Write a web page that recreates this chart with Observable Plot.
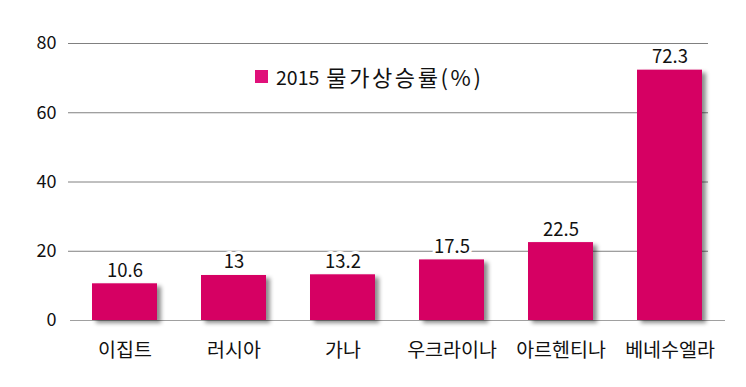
<!DOCTYPE html>
<html><head><meta charset="utf-8">
<script src="https://cdn.jsdelivr.net/npm/d3@7"></script>
<script src="https://cdn.jsdelivr.net/npm/@observablehq/plot@0.6"></script>
<style>
body{margin:0;background:#fff;font-family:"Noto Sans CJK KR","Noto Sans",sans-serif;}
#wrap{position:relative;width:746px;height:387px;}
#legend{position:absolute;left:255px;top:60px;color:#111;display:flex;align-items:center;white-space:nowrap;}
#legend span.sw{display:inline-block;width:13px;height:13px;background:#E0107A;margin-right:8px;}
#legend .num{font-size:19.5px;margin-right:7px;}
#legend .ko{font-size:22px;letter-spacing:2.6px;}
</style></head>
<body><div id="wrap"><div id="legend"><span class="sw"></span><span class="num">2015</span><span class="ko">물가상승률(%)</span></div></div>
<script>
const countries = ["이집트","러시아","가나","우크라이나","아르헨티나","베네수엘라"];
const inflation = [10.6, 13, 13.2, 17.5, 22.5, 72.3];
const yTicks = [0, 20, 40, 60, 80];
const seriesName = "2015 물가상승률(%)";

const data = countries.map((c, i) => ({country: c, value: inflation[i]}));
const font = "'Noto Sans CJK KR','Noto Sans',sans-serif";

const chart = Plot.plot({
  width: 746, height: 387,
  marginLeft: 70, marginRight: 21, marginTop: 43, marginBottom: 67,
  style: {fontFamily: font, background: "white", color: "#111"},
  x: {domain: countries, paddingInner: 0.4, paddingOuter: 0.2, label: null},
  y: {domain: [0, 80], ticks: yTicks, label: null},
  marks: [
    Plot.ruleY(yTicks.filter(d => d > 0), {stroke: "#808080", strokeWidth: 1, insetRight: 17, insetLeft: -2}),
    Plot.ruleY([0], {stroke: "#a0a0a0", strokeWidth: 1}),
    Plot.barY(data, {x: "country", y: "value", fill: "#D60064", className: "bars"}),
    Plot.text(data, {x: "country", y: "value", text: d => String(d.value), dy: -13, fontSize: 18.5, fill: "#111", stroke: "white", strokeWidth: 6, paintOrder: "stroke"}),
    Plot.axisY({ticks: yTicks, tickSize: 0, tickPadding: 14, label: null}),
    Plot.axisX({tickSize: 0, tickPadding: 23, label: null})
  ]
});
const svg = d3.select(chart);
svg.insert("defs", ":first-child").html('<filter id="sh" x="-20%" y="-20%" width="150%" height="150%"><feDropShadow dx="4" dy="3" stdDeviation="2" flood-color="#000" flood-opacity="0.45"/></filter>');
svg.selectAll("g.bars").attr("filter", "url(#sh)");
svg.selectAll("g[aria-label='y-axis tick label']").attr("font-size", 18).style("font-size", "18px").attr("fill", "#111");
svg.selectAll("g[aria-label='x-axis tick label']").attr("font-size", 19.5).style("font-size", "19.5px").attr("fill", "#111");
document.getElementById("wrap").prepend(chart);
</script></body></html>
